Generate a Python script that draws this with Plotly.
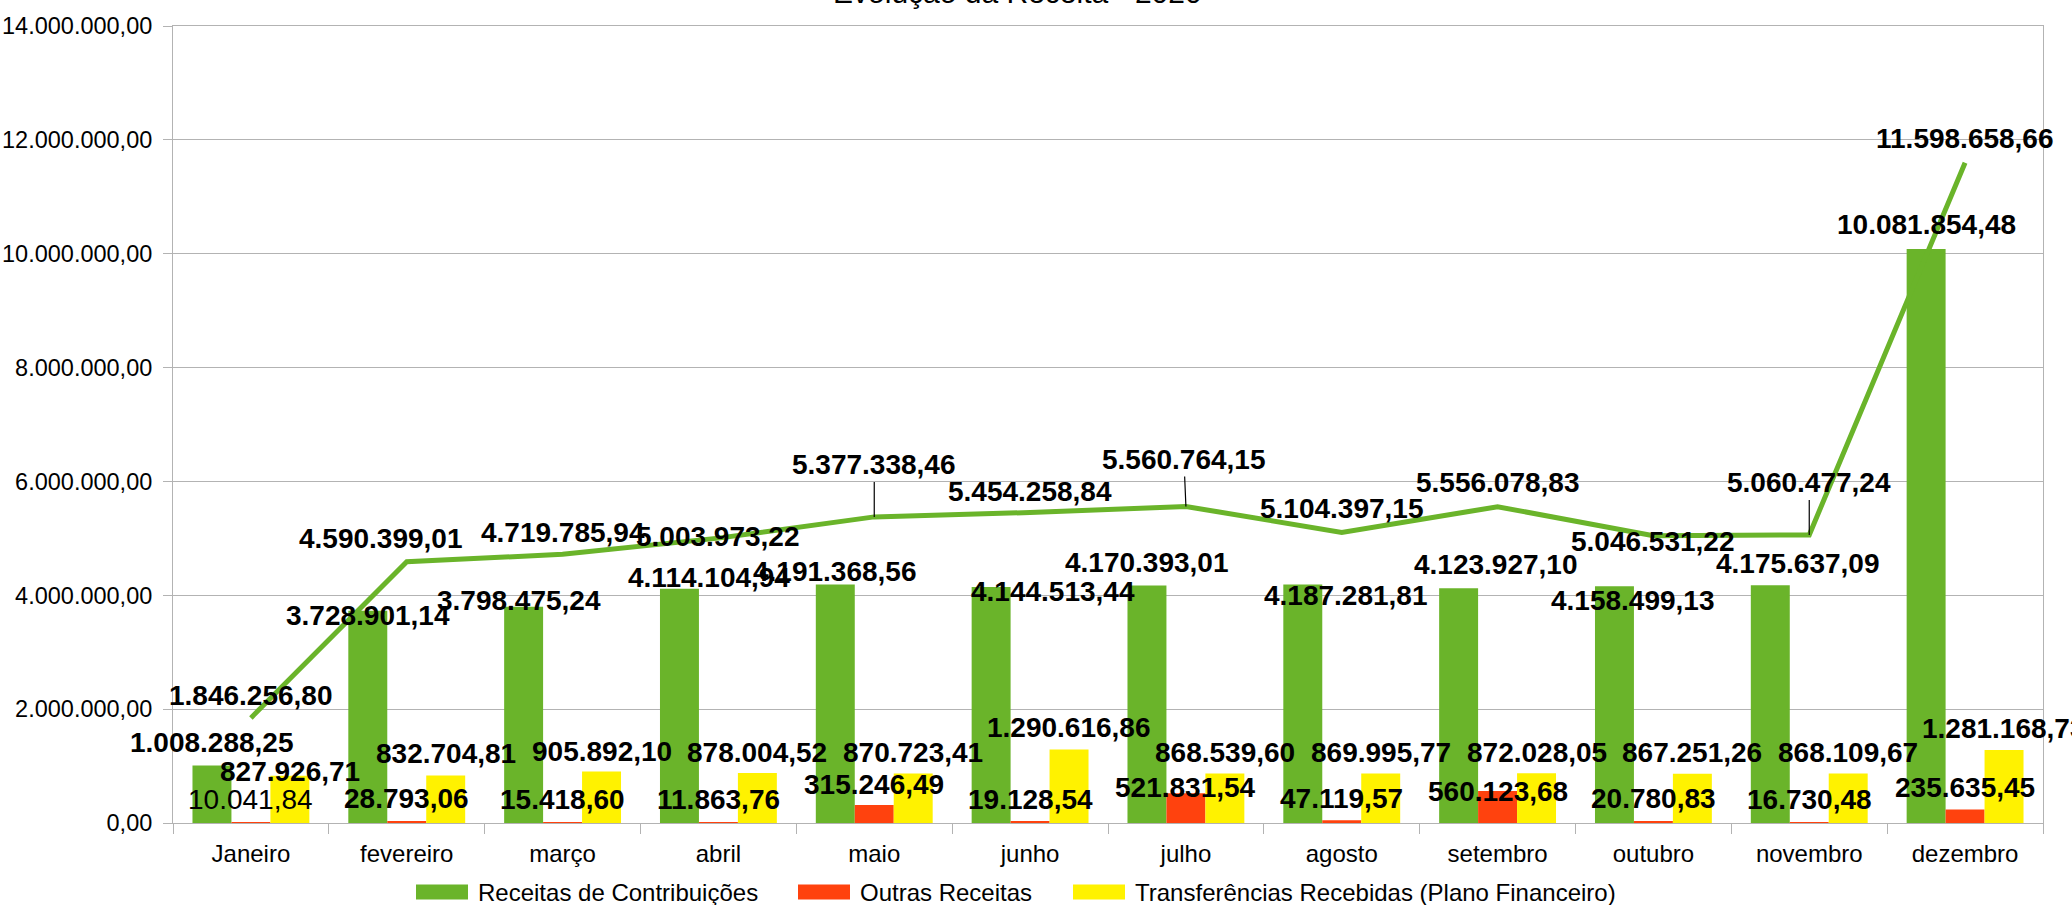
import plotly.graph_objects as go

# --- DADOS ---
meses = ["Janeiro", "fevereiro", "março", "abril", "maio", "junho",
         "julho", "agosto", "setembro", "outubro", "novembro", "dezembro"]
contribuicoes = [1008288.25, 3728901.14, 3798475.24, 4114104.94, 4191368.56, 4144513.44,
                 4170393.01, 4187281.81, 4123927.10, 4158499.13, 4175637.09, 10081854.48]
outras = [10041.84, 28793.06, 15418.60, 11863.76, 315246.49, 19128.54,
          521831.54, 47119.57, 560123.68, 20780.83, 16730.48, 235635.45]
transferencias = [827926.71, 832704.81, 905892.10, 878004.52, 870723.41, 1290616.86,
                  868539.60, 869995.77, 872028.05, 867251.26, 868109.67, 1281168.73]
total = [1846256.80, 4590399.01, 4719785.94, 5003973.22, 5377338.46, 5454258.84,
         5560764.15, 5104397.15, 5556078.83, 5046531.22, 5060477.24, 11598658.66]
series = ["Receitas de Contribuições", "Outras Receitas",
          "Transferências Recebidas (Plano Financeiro)"]

# --- LAYOUT ---
W, H = 2072, 905
ML, MR, MT, MB = 173, 29, 26, 82
BARGAP = 0.25
VERDE, VERMELHO, AMARELO = "#6ab42a", "#ff420e", "#fff200"
CORES = [VERDE, VERMELHO, AMARELO]
FONTE = "Liberation Sans, Arial, sans-serif"

plot_w, plot_h = W - ML - MR, H - MT - MB
cat_w = plot_w / len(meses)
bar_w = cat_w * (1 - BARGAP) / 3

# deslocamento dos rótulos (px, positivo = para baixo), alguns foram arrastados à mão
dx_contrib = [0, 0, -5, 30, 0, 62, 0, 43, 37, 19, 28, 0]
dy_contrib = [-23, 5, -6, -11, -13, 4, -23, 11, -24, 14, -22, -25]
dy_outras = [-23, -23, -23, -23, -21, -22, -6, -22, 0, -23, -23, -22]
dy_transf = [-4, -22, -20, -21, -21, -22, -21, -21, -21, -21, -21, -22]
dx_total = [0, -26, 0, 0, 0, 0, -2, 0, 0, 0, 0, 0]
dy_total = [-22, -23, -22, -2, -52, -21, -47, -24, -24, 6, -52, -24]
com_linha = [4, 6, 10]  # rótulos com linha de chamada

# legenda desenhada à mão (posição do texto em px na página)
LEG_TX = [476, 858, 1133]
LEG_Y = 892


def fmt(v):
    s = f"{v:,.2f}"
    return s.replace(",", "X").replace(".", ",").replace("X", ".")


def px_x(p):
    return (p - ML) / plot_w


def px_y(p):
    return (H - MB - p) / plot_h


fig = go.Figure()
for nome, vals, cor in zip(series, [contribuicoes, outras, transferencias], CORES):
    fig.add_trace(go.Bar(x=meses, y=vals, name=nome, showlegend=False,
                         marker=dict(color=cor, line=dict(width=0))))
fig.add_trace(go.Scatter(x=meses, y=total, mode="lines", showlegend=False,
                         line=dict(color=VERDE, width=5), hoverinfo="skip"))

anots = []
bold = dict(family=FONTE, size=28, color="black", weight="bold")
for i, m in enumerate(meses):
    anots.append(dict(x=m, y=contribuicoes[i], text=fmt(contribuicoes[i]),
                      xshift=-bar_w + dx_contrib[i], yshift=-dy_contrib[i]))
    anots.append(dict(x=m, y=outras[i], text=fmt(outras[i]), yshift=-dy_outras[i],
                      font=dict(family=FONTE, size=28, color="black") if i == 0 else bold))
    anots.append(dict(x=m, y=transferencias[i], text=fmt(transferencias[i]),
                      xshift=bar_w, yshift=-dy_transf[i]))
    if i in com_linha:
        anots.append(dict(x=m, y=total[i], text=fmt(total[i]), showarrow=True,
                          ax=dx_total[i], ay=dy_total[i], arrowhead=0, arrowwidth=1.2,
                          arrowcolor="black", standoff=0))
    else:
        anots.append(dict(x=m, y=total[i], text=fmt(total[i]),
                          xshift=dx_total[i], yshift=-dy_total[i]))

for a in anots:
    a.setdefault("showarrow", False)
    a.setdefault("font", bold)
    a.update(xanchor="center", yanchor="middle")

# legenda
shapes = []
for nome, cor, tx in zip(series, CORES, LEG_TX):
    shapes.append(dict(type="rect", xref="paper", yref="paper",
                       x0=px_x(tx - 60), x1=px_x(tx - 8),
                       y0=px_y(LEG_Y + 7.5), y1=px_y(LEG_Y - 7.5),
                       fillcolor=cor, line=dict(width=0)))
    anots.append(dict(xref="paper", yref="paper", x=px_x(tx), y=px_y(LEG_Y),
                      text=nome, showarrow=False, xanchor="left", yanchor="middle",
                      font=dict(family=FONTE, size=24, color="black")))

fig.update_layout(
    width=W, height=H,
    margin=dict(l=ML, r=MR, t=MT, b=MB, autoexpand=False),
    paper_bgcolor="white", plot_bgcolor="white",
    font=dict(family=FONTE, size=24, color="black"),
    separators=",.",
    barmode="group", bargap=BARGAP, bargroupgap=0,
    title=dict(text="Evolução da Receita - 2020", font=dict(size=30, color="black"),
               x=0.491, xanchor="center", y=0.997, yanchor="bottom"),
    showlegend=False,
    annotations=anots,
    shapes=shapes,
)
fig.update_yaxes(range=[0, 14000000], dtick=2000000, tickformat=",.2f",
                 showgrid=True, gridcolor="#b3b3b3", gridwidth=1,
                 showline=True, linecolor="#b3b3b3", mirror=True, zeroline=False,
                 ticks="outside", ticklen=9, tickcolor="#b3b3b3",
                 tickfont=dict(size=23.5), ticklabelstandoff=6)
fig.update_xaxes(type="category", range=[-0.5, 11.5], tickson="boundaries",
                 ticks="outside", ticklen=10, ticklabelstandoff=9,
                 tickcolor="#b3b3b3", showline=True, linecolor="#b3b3b3", mirror=True,
                 tickfont=dict(size=24))

fig.write_html("out.html", config={"displayModeBar": False},
               post_script="document.body.style.margin='0';document.body.style.overflow='hidden';")
